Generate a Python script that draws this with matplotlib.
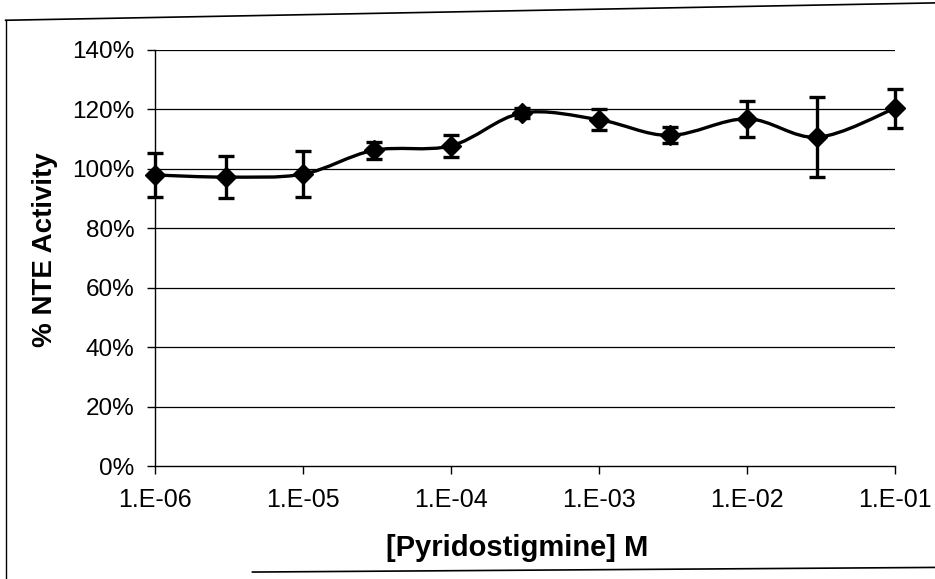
import numpy as np
import matplotlib
matplotlib.use('Agg')
import matplotlib.pyplot as plt
from matplotlib.path import Path
from matplotlib.patches import PathPatch
from matplotlib.lines import Line2D
from matplotlib.ticker import FixedLocator, FuncFormatter

# data
conc     = [1e-6, 3e-6, 1e-5, 3e-5, 1e-4, 3e-4, 1e-3, 3e-3, 1e-2, 3e-2, 1e-1]
activity = [97.9, 97.2, 98.2, 106.2, 107.7, 118.7, 116.5, 111.2, 116.8, 110.6, 120.3]
err      = [7.5, 7.2, 7.8, 2.8, 3.6, 1.8, 3.6, 2.7, 6.0, 13.5, 6.6]

xticks = [1e-6, 1e-5, 1e-4, 1e-3, 1e-2, 1e-1]
yticks = [0, 20, 40, 60, 80, 100, 120, 140]

plt.rcParams['font.family'] = ['Liberation Sans', 'DejaVu Sans']

fig = plt.figure(figsize=(9.35, 5.79), dpi=100)
ax = fig.add_axes([0.166, 0.195, 0.791, 0.719])

ax.set_xscale('log')
ax.set_xlim(1e-6, 1e-1)
ax.set_ylim(0, 140)

# excel-like smoothed line: bezier segments in (log10 x, y) space
lx = np.log10(conc)
pts = np.column_stack([lx, activity])
n = len(pts)
verts = [pts[0]]
codes = [Path.MOVETO]
for i in range(n - 1):
    p0 = pts[max(i - 1, 0)]
    p1 = pts[i]
    p2 = pts[i + 1]
    p3 = pts[min(i + 2, n - 1)]
    verts += [p1 + (p2 - p0) / 6, p2 - (p3 - p1) / 6, p2]
    codes += [Path.CURVE4] * 3
curve = PathPatch(Path(verts, codes), facecolor='none', edgecolor='black',
                  lw=2.4, transform=ax.transLimits + ax.transAxes, zorder=3,
                  clip_on=False)
ax.add_patch(curve)

eb = ax.errorbar(conc, activity, yerr=err, fmt='D', color='black', ms=10,
                 ecolor='black', elinewidth=2.4, capsize=5.5, capthick=2.4, zorder=4)
for a in eb.lines[0:1] + tuple(eb.lines[1]) + tuple(eb.lines[2]):
    a.set_clip_on(False)

for y in yticks[1:]:
    ax.axhline(y, color='black', lw=0.9, zorder=1)

ax.xaxis.set_major_locator(FixedLocator(xticks))
ax.xaxis.set_minor_locator(FixedLocator([]))
ax.xaxis.set_major_formatter(FuncFormatter(lambda v, p: '1.E-%02d' % round(-np.log10(v))))
ax.yaxis.set_major_locator(FixedLocator(yticks))
ax.yaxis.set_major_formatter(FuncFormatter(lambda v, p: '%d%%' % v))

for s in ['top', 'right']:
    ax.spines[s].set_visible(False)
ax.spines['left'].set_linewidth(1.0)
ax.spines['bottom'].set_linewidth(1.0)
ax.tick_params(axis='both', direction='out', length=6, width=1.0, colors='black')
ax.tick_params(axis='x', labelsize=18, pad=10)
ax.tick_params(axis='y', labelsize=17.5, pad=9)

ax.set_xlabel('[Pyridostigmine] M', fontsize=21, fontweight='bold')
ax.set_ylabel('% NTE Activity', fontsize=20, fontweight='bold')
ax.xaxis.set_label_coords(0.49, -0.163)
ax.yaxis.set_label_coords(-0.132, 0.52)

# chart area border from the scan
fig.add_artist(Line2D([0.006, 1.0], [0.965, 0.995], transform=fig.transFigure, color='black', lw=1.2))
fig.add_artist(Line2D([0.006, 0.006], [0.965, 0.0], transform=fig.transFigure, color='black', lw=1.0))
fig.add_artist(Line2D([0.27, 1.0], [0.012, 0.02], transform=fig.transFigure, color='black', lw=1.2))

fig.savefig('out.png', dpi=100)
